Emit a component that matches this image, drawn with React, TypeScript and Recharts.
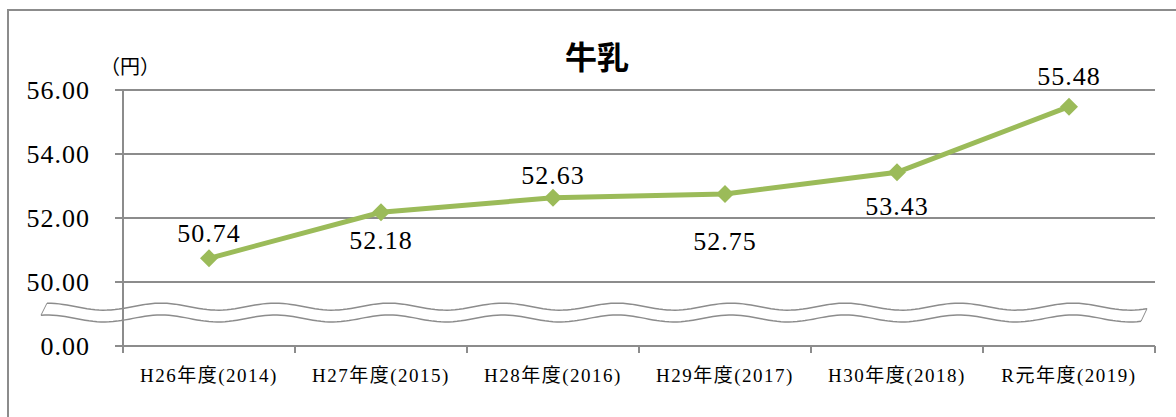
import { LineChart, Line, XAxis, YAxis, CartesianGrid, LabelList, ReferenceArea } from 'recharts';

// 牛乳の単価推移 (円)
const categories = ['H26年度(2014)', 'H27年度(2015)', 'H28年度(2016)', 'H29年度(2017)', 'H30年度(2018)', 'R元年度(2019)'];
const prices = [50.74, 52.18, 52.63, 52.75, 53.43, 55.48];
const yTicks = [48, 50, 52, 54, 56]; // 48 is drawn as 0.00 under the axis break

// where each value label sits relative to its marker (px, + is below)
const labelDy = [-25, 28, -22, 47, 34, -30];

const chartData = categories.map((name, i) => ({ name, price: prices[i] }));

const GREEN = '#9BBB59';
const GRAY = '#8c8c8c';
const SERIF = "'Liberation Serif', 'Noto Sans CJK JP', serif";

const CHART_W = 1176;
const CHART_H = 417;
const MARGIN = { top: 90, right: 21, bottom: 11, left: 0 };
const Y_AXIS_W = 123;
const PLOT_W = CHART_W - MARGIN.left - MARGIN.right - Y_AXIS_W;
const BAND = PLOT_W / categories.length;

function Diamond(props: any) {
    const { cx, cy } = props;
    if (cx == null || cy == null) return null;
    const r = 9;
    return <polygon points={`${cx},${cy - r} ${cx + r},${cy} ${cx},${cy + r} ${cx - r},${cy}`} fill={GREEN} />;
}

function CategoryTick(props: any) {
    const { x, y, payload, index } = props;
    const left = x - BAND / 2;
    return (
        <g>
            <line x1={left} y1={y} x2={left} y2={y + 7} stroke={GRAY} strokeWidth={2} />
            {index === categories.length - 1 && (
                <line x1={x + BAND / 2} y1={y} x2={x + BAND / 2} y2={y + 7} stroke={GRAY} strokeWidth={2} />
            )}
            <text x={x} y={y + 29} textAnchor="middle" dominantBaseline="central" fontSize={19} letterSpacing={1.5} fontFamily={SERIF} fill="#000">
                {payload.value}
            </text>
        </g>
    );
}

function ValueLabel(props: any) {
    const { x, y, value, index } = props;
    return (
        <text x={x} y={y + labelDy[index]} textAnchor="middle" dominantBaseline="central" fontSize={26} letterSpacing={1} fontFamily={SERIF} fill="#000">
            {Number(value).toFixed(2)}
        </text>
    );
}

// wavy band marking the break in the value axis
// (the area spans first..last category centre, so widen it by half a band each side)
function AxisBreak(props: any) {
    const { x, y, width, height } = props;
    const x0 = x - BAND / 2 - 76;
    const x1 = x + width + BAND / 2 - 8;
    const period = 114;
    const amp = 3.5;
    const wave = (base: number, from: number, to: number) => {
        const pts: string[] = [];
        const step = from < to ? 4 : -4;
        for (let px = from; from < to ? px <= to : px >= to; px += step) {
            pts.push(`${px},${base - amp * Math.cos((2 * Math.PI * (px - x0)) / period)}`);
        }
        return pts;
    };
    const top = wave(y, x0, x1);
    const bottom = wave(y + height, x1 - 6, x0 - 6);
    return (
        <g>
            <path d={`M${top.join(' L')}`} fill="none" stroke={GRAY} strokeWidth={1.5} />
            <path d={`M${bottom.join(' L')}`} fill="none" stroke={GRAY} strokeWidth={1.5} />
            <path d={`M${top[0]} L${bottom[bottom.length - 1]}`} fill="none" stroke={GRAY} strokeWidth={1} />
            <path d={`M${top[top.length - 1]} L${bottom[0]}`} fill="none" stroke={GRAY} strokeWidth={1} />
        </g>
    );
}

export default function App() {
    return (
        <div style={{ position: 'absolute', left: 0, top: 0, width: CHART_W, height: CHART_H, overflow: 'hidden', background: '#fff' }}>
            <div style={{ position: 'absolute', left: 7, top: 9, width: 1300, height: 600, border: `2px solid ${GRAY}` }} />
            <div style={{ position: 'absolute', left: 0, width: 1194, top: 34, textAlign: 'center', fontFamily: "'Noto Sans CJK JP', sans-serif", fontWeight: 700, fontSize: 32, lineHeight: '42px' }}>
                牛乳
            </div>
            <div style={{ position: 'absolute', left: 100, top: 54, fontFamily: SERIF, fontSize: 20, lineHeight: '26px' }}>
                （円）
            </div>
            <div style={{ position: 'absolute', left: 0, top: 0 }}>
                <LineChart width={CHART_W} height={CHART_H} data={chartData} margin={MARGIN}>
                    <CartesianGrid vertical={false} stroke={GRAY} strokeWidth={2} />
                    <XAxis
                        dataKey="name"
                        height={60}
                        padding={{ left: BAND / 2, right: BAND / 2 }}
                        tickSize={0}
                        tickMargin={0}
                        tickLine={false}
                        axisLine={{ stroke: GRAY, strokeWidth: 2 }}
                        tick={<CategoryTick />}
                        interval={0}
                    />
                    <YAxis
                        width={Y_AXIS_W}
                        domain={[48, 56]}
                        ticks={yTicks}
                        tickFormatter={(v: number) => (v === 48 ? '0.00' : v.toFixed(2))}
                        tickSize={8}
                        tickMargin={25}
                        axisLine={{ stroke: GRAY, strokeWidth: 2 }}
                        tickLine={{ stroke: GRAY, strokeWidth: 2 }}
                        tick={{ fontSize: 26, letterSpacing: 1, fontFamily: SERIF, fill: '#000' }}
                    />
                    <ReferenceArea y1={48.86} y2={49.23} ifOverflow="visible" shape={<AxisBreak />} />
                    <Line
                        type="linear"
                        dataKey="price"
                        stroke={GREEN}
                        strokeWidth={5}
                        dot={<Diamond />}
                        activeDot={false}
                        isAnimationActive={false}
                    >
                        <LabelList dataKey="price" content={<ValueLabel />} />
                    </Line>
                </LineChart>
            </div>
        </div>
    );
}
